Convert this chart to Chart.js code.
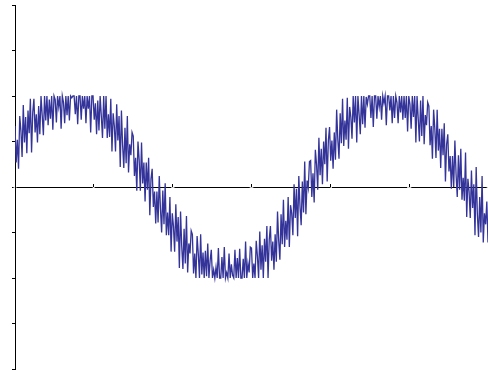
<!DOCTYPE html>
<html>
<head>
<meta charset="utf-8">
<script src="https://cdn.jsdelivr.net/npm/chart.js@4/dist/chart.umd.min.js"></script>
<style>
  html, body { margin: 0; padding: 0; background: #ffffff; }
  #wrap { width: 488px; height: 370px; }
</style>
</head>
<body>
<div id="wrap"><canvas id="c" width="488" height="370"></canvas></div>
<script>
// Sampled signal, one reading every 0.015 along x (0 .. 6)
const sampleStep = 0.015;
const signal = [
  0.67, 0.27, 0.52, 0.20, 0.78, 0.62, 0.33, 0.90, 0.49, 0.77,
  0.37, 0.84, 0.59, 0.97, 0.38, 0.82, 0.97, 0.60, 0.80, 0.49,
  0.89, 0.58, 1.0, 0.79, 0.57, 1.0, 0.73, 1.0, 0.68, 0.96,
  0.75, 1.0, 0.63, 1.0, 0.96, 0.71, 1.0, 0.88, 1.0, 0.64,
  1.0, 0.93, 0.70, 1.0, 0.79, 1.0, 0.73, 1.0, 0.98, 1.0,
  1.0, 0.80, 1.0, 0.69, 1.0, 1.0, 0.74, 1.0, 0.86, 1.0,
  0.70, 1.0, 0.86, 1.0, 0.60, 1.0, 1.0, 0.74, 0.92, 0.58,
  0.95, 0.62, 1.0, 0.78, 0.54, 1.0, 0.64, 1.0, 0.54, 0.80,
  0.55, 0.97, 0.39, 0.81, 0.67, 0.39, 0.91, 0.51, 0.78, 0.22,
  0.84, 0.46, 0.21, 0.65, 0.26, 0.78, 0.16, 0.47, 0.35, 0.60,
  0.56, 0.12, 0.32, -0.04, 0.50, 0.30, -0.04, 0.49, 0.04, 0.27,
  -0.16, 0.27, -0.03, 0.32, -0.31, 0.09, 0.20, -0.22, -0.05, -0.40,
  -0.05, -0.39, 0.12, -0.24, -0.50, -0.04, -0.41, 0.04, -0.53, -0.28,
  -0.53, -0.11, -0.71, -0.29, -0.43, -0.71, -0.19, -0.60, -0.33, -0.89,
  -0.27, -0.65, -0.90, -0.46, -0.84, -0.32, -0.94, -0.62, -0.73, -0.48,
  -0.52, -0.95, -0.73, -1.0, -0.54, -0.73, -1.0, -0.52, -0.96, -0.72,
  -1.0, -0.70, -0.98, -0.62, -1.0, -0.81, -0.69, -1.0, -0.91, -1.0,
  -0.88, -1.0, -0.67, -1.0, -1.0, -0.77, -1.0, -0.66, -1.0, -0.94,
  -1.0, -0.73, -1.0, -0.85, -0.97, -1.0, -0.69, -1.0, -0.78, -1.0,
  -0.68, -1.0, -1.0, -0.79, -1.0, -0.60, -1.0, -0.84, -0.94, -0.66,
  -0.67, -1.0, -0.84, -1.0, -0.59, -0.76, -1.0, -0.49, -0.91, -0.64,
  -1.0, -0.57, -0.82, -0.43, -1.0, -0.58, -0.43, -0.81, -0.60, -0.91,
  -0.52, -0.82, -0.27, -0.59, -0.80, -0.30, -0.63, -0.14, -0.66, -0.37,
  -0.58, -0.11, -0.66, -0.20, -0.29, -0.53, 0.03, -0.34, -0.02, -0.54,
  0.12, -0.21, -0.42, 0.06, -0.28, 0.28, -0.30, 0.07, -0.01, 0.28,
  0.29, -0.11, 0.15, -0.17, 0.41, 0.25, -0.03, 0.54, 0.13, 0.42,
  0.03, 0.50, 0.25, 0.65, 0.06, 0.51, 0.66, 0.29, 0.51, 0.20,
  0.60, 0.30, 0.85, 0.52, 0.31, 0.81, 0.48, 0.97, 0.45, 0.73,
  0.52, 0.98, 0.42, 0.88, 0.77, 0.53, 1.0, 0.71, 1.0, 0.49,
  1.0, 0.80, 0.58, 1.0, 0.69, 1.0, 0.65, 0.99, 0.91, 1.0,
  1.0, 0.76, 1.0, 0.66, 1.0, 1.0, 0.75, 1.0, 0.88, 1.0,
  0.74, 1.0, 0.92, 1.0, 0.68, 1.0, 1.0, 0.84, 1.0, 0.70,
  1.0, 0.76, 1.0, 0.93, 0.70, 1.0, 0.82, 1.0, 0.74, 1.0,
  0.76, 1.0, 0.61, 1.0, 0.91, 0.64, 1.0, 0.77, 1.0, 0.49,
  1.0, 0.75, 0.50, 0.95, 0.56, 1.0, 0.47, 0.79, 0.68, 0.93,
  0.89, 0.46, 0.67, 0.31, 0.85, 0.65, 0.32, 0.85, 0.40, 0.64,
  0.21, 0.64, 0.35, 0.70, 0.06, 0.47, 0.58, 0.17, 0.34, -0.02,
  0.34, 0.00, 0.51, 0.14, -0.11, 0.35, -0.03, 0.42, -0.14, 0.10,
  -0.15, 0.38, -0.33, 0.09, -0.05, -0.34, 0.18, -0.23, 0.03, -0.53,
  0.22, -0.30, -0.55, -0.11, -0.50, 0.12, -0.61, -0.29, -0.41, -0.16,
  -0.61
];

// Axis ranges and tick spacing
const xRange = [0, 6];
const xTickStep = 1;
const yRange = [-2, 2];
const yTickStep = 0.5;

const points = signal.map((v, i) => ({ x: +(i * sampleStep).toFixed(3), y: v }));

new Chart(document.getElementById('c'), {
  type: 'line',
  data: {
    datasets: [{
      data: points,
      borderColor: '#333399',
      borderWidth: 1.3,
      pointRadius: 0,
      tension: 0,
      fill: false
    }]
  },
  options: {
    responsive: false,
    animation: false,
    layout: { padding: { left: 12, top: 5, right: 0, bottom: 1 } },
    plugins: { legend: { display: false }, tooltip: { enabled: false } },
    scales: {
      x: {
        type: 'linear',
        position: { y: 0 },
        min: xRange[0],
        max: xRange[1],
        // let the plot run right up to the canvas edge
        afterFit(scale) { scale.paddingLeft = 0; scale.paddingRight = 0; },
        ticks: { stepSize: xTickStep, color: '#ffffff', font: { size: 10 } },
        grid: { drawOnChartArea: false, drawTicks: true, tickLength: -4, color: '#000000' },
        border: { display: true, color: '#000000', width: 1 }
      },
      y: {
        type: 'linear',
        position: 'left',
        min: yRange[0],
        max: yRange[1],
        ticks: { stepSize: yTickStep, display: false },
        grid: { drawOnChartArea: false, drawTicks: true, tickLength: 3, color: '#000000' },
        border: { display: true, color: '#000000', width: 1 }
      }
    }
  }
});
</script>
</body>
</html>
